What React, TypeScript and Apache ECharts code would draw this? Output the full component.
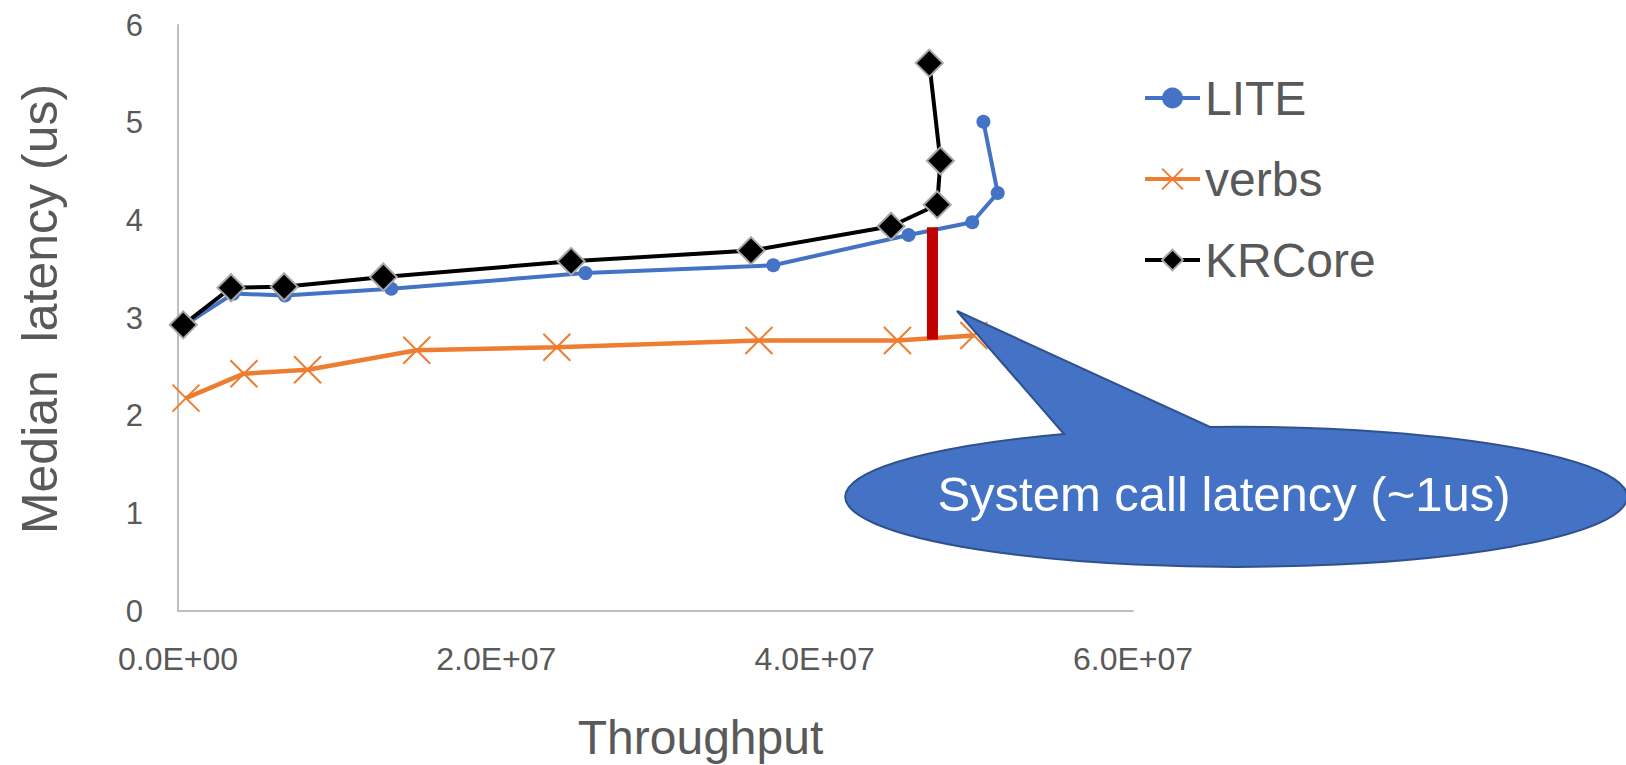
import React, { useEffect, useRef } from "react";
import * as echarts from "echarts";

// ---- data ----
const liteX = [2.5e5, 3.47e6, 6.72e6, 1.34e7, 2.56e7, 3.74e7, 4.59e7, 4.99e7, 5.15e7, 5.06e7];
const liteY = [2.91, 3.25, 3.23, 3.3, 3.46, 3.54, 3.85, 3.98, 4.28, 5.01];

const verbsX = [5.0e5, 4.14e6, 8.14e6, 1.5e7, 2.38e7, 3.65e7, 4.52e7, 5.0e7];
const verbsY = [2.18, 2.43, 2.47, 2.67, 2.7, 2.77, 2.77, 2.82];

const krcoreX = [3.3e5, 3.33e6, 6.67e6, 1.29e7, 2.47e7, 3.6e7, 4.48e7, 4.77e7, 4.79e7, 4.72e7];
const krcoreY = [2.93, 3.31, 3.32, 3.42, 3.58, 3.69, 3.94, 4.16, 4.61, 5.61];

const gapX = 4.74e7;
const gapY = [2.78, 3.93];

const seriesNames = ["LITE", "verbs", "KRCore"];
const xMin = 0;
const xMax = 6e7;
const xStep = 2e7;
const yMin = 0;
const yMax = 6;
const yStep = 1;

const calloutText = "System call latency (~1us)";

// callout shape (ellipse with a pointer), drawn in page pixels
const calloutPath =
  "M957,311 L1210,427 A391,70 0 1 1 1064,434 Z";
echarts.graphic.registerShape(
  "callout",
  echarts.graphic.extendPath(calloutPath, {}) as any
);

function sci(v: number): string {
  if (v === 0) return "0.0E+00";
  const e = Math.floor(Math.log10(Math.abs(v)) + 1e-9);
  const m = v / Math.pow(10, e);
  return (
    m.toFixed(1) + "E" + (e < 0 ? "-" : "+") + String(Math.abs(e)).padStart(2, "0")
  );
}

const zip = (xs: number[], ys: number[]) => xs.map((x, i) => [x, ys[i]]);

const FONT = '"Liberation Sans", Arial, Helvetica, sans-serif';
const TEXT = "#595959";

export default function App() {
  const ref = useRef<HTMLDivElement>(null);

  useEffect(() => {
    if (!ref.current) return;
    const chart = echarts.init(ref.current, undefined, { renderer: "svg" });
    const option: any = {
      animation: false,
      backgroundColor: "#ffffff",
      textStyle: { fontFamily: FONT },
      grid: {
        left: 178,
        top: 25,
        width: 955,
        height: 586,
        containLabel: false,
        outerBoundsMode: "none",
      },
      legend: {
        data: seriesNames,
        orient: "vertical",
        left: 1138,
        top: 68,
        itemWidth: 55,
        itemHeight: 26,
        itemGap: 31,
        lineStyle: { width: 4 },
        textStyle: { fontSize: 48, color: TEXT, fontFamily: FONT, lineHeight: 50 },
      },
      xAxis: {
        type: "value",
        min: xMin,
        max: xMax,
        interval: xStep,
        name: "Throughput",
        nameLocation: "middle",
        nameGap: 102,
        nameTextStyle: {
          fontSize: 48,
          color: TEXT,
          fontFamily: FONT,
          padding: [0, 0, 0, 90],
        },
        axisLine: { show: true, lineStyle: { color: "#BFBFBF", width: 2 } },
        axisTick: { show: false },
        splitLine: { show: false },
        axisLabel: {
          formatter: (v: number) => sci(v),
          fontSize: 32,
          color: TEXT,
          margin: 32,
          fontFamily: FONT,
        },
      },
      yAxis: {
        type: "value",
        min: yMin,
        max: yMax,
        interval: yStep,
        name: "Median  latency (us)",
        nameLocation: "middle",
        nameGap: 113,
        nameTextStyle: {
          fontSize: 50,
          color: TEXT,
          fontFamily: FONT,
          padding: [0, 0, 0, 18],
        },
        axisLine: { show: true, lineStyle: { color: "#BFBFBF", width: 2 } },
        axisTick: { show: false },
        splitLine: { show: false },
        axisLabel: { fontSize: 31, color: TEXT, margin: 35, fontFamily: FONT },
      },
      series: [
        {
          name: "LITE",
          type: "line",
          data: zip(liteX, liteY),
          symbol: "circle",
          symbolSize: 14,
          color: "#4472C4",
          lineStyle: { color: "#4472C4", width: 4 },
          itemStyle: { color: "#4472C4" },
          z: 2,
        },
        {
          name: "verbs",
          type: "line",
          data: zip(verbsX, verbsY),
          symbol: "path://M0,0L10,10M10,0L0,10",
          symbolSize: 27,
          color: "#ED7D31",
          lineStyle: { color: "#ED7D31", width: 4.5 },
          itemStyle: { color: "#ED7D31", borderColor: "#ED7D31", borderWidth: 2 },
          z: 3,
        },
        {
          name: "KRCore",
          type: "line",
          data: zip(krcoreX, krcoreY),
          symbol: "diamond",
          symbolSize: 27,
          color: "#000000",
          lineStyle: { color: "#000000", width: 4 },
          itemStyle: { color: "#000000", borderColor: "#A6A6A6", borderWidth: 2 },
          z: 4,
        },
        {
          name: "gap",
          type: "line",
          data: gapY.map((y) => [gapX, y]),
          symbol: "none",
          silent: true,
          lineStyle: { color: "#C00000", width: 11, cap: "butt" },
          z: 5,
        },
      ],
      graphic: [
        {
          type: "callout",
          x: 0,
          y: 0,
          z: 100,
          style: { fill: "#4472C4", stroke: "#2F528F", lineWidth: 2 },
        },
        {
          type: "text",
          x: 1224,
          y: 494,
          z: 101,
          style: {
            text: calloutText,
            fill: "#ffffff",
            fontSize: 49,
            fontFamily: FONT,
            align: "center",
            verticalAlign: "middle",
          },
        },
      ],
    };
    chart.setOption(option);
    return () => chart.dispose();
  }, []);

  return (
    <div
      ref={ref}
      style={{ position: "absolute", left: 0, top: 0, width: 1626, height: 765 }}
    />
  );
}
